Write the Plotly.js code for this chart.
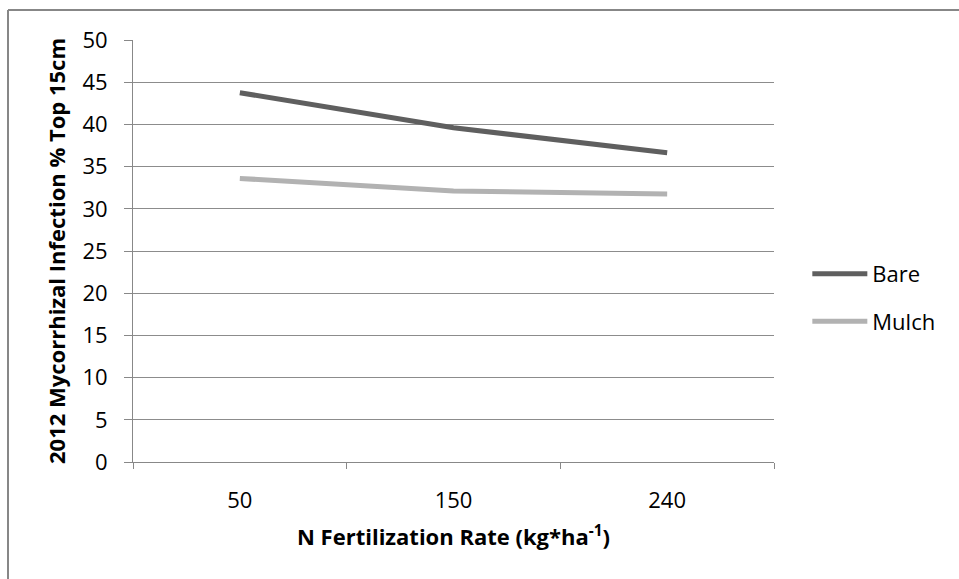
<!DOCTYPE html>
<html>
<head>
<meta charset="utf-8">
<script src="https://cdn.plot.ly/plotly-3.0.1.min.js"></script>
<style>
html,body{margin:0;padding:0;background:#fff;}
#chart{width:959px;height:579px;}
</style>
</head>
<body>
<div id="chart"></div>
<script>
const categories = ["50", "150", "240"];
const bare = [43.75, 39.6, 36.65];
const mulch = [33.6, 32.1, 31.75];
const yTicks = [0, 5, 10, 15, 20, 25, 30, 35, 40, 45, 50];

const font = "'Open Sans', sans-serif";

const traces = [
  {x: categories, y: bare, type: "scatter", mode: "lines", name: "Bare", legendgroup: "a",
   line: {color: "#5f5f5f", width: 5}},
  {x: categories, y: mulch, type: "scatter", mode: "lines", name: "Mulch", legendgroup: "b",
   line: {color: "#b2b2b2", width: 5}}
];

const layout = {
  width: 959, height: 579,
  margin: {l: 133, r: 185, t: 40, b: 117},
  paper_bgcolor: "#fff", plot_bgcolor: "#fff",
  font: {family: font, size: 22, color: "#000"},
  showlegend: true,
  legend: {x: 1.052, y: 0.389, xanchor: "left", yanchor: "middle",
           itemwidth: 55, tracegroupgap: 16, font: {size: 22},
           bgcolor: "rgba(0,0,0,0)"},
  xaxis: {
    type: "category", range: [-0.5, 2.5],
    showgrid: false, showline: true, linecolor: "#888", linewidth: 1,
    ticks: "outside", tickson: "boundaries", ticklen: 6, tickcolor: "#888",
    ticklabelstandoff: 19,
    tickfont: {size: 22}, fixedrange: true,
    title: {text: "N Fertilization Rate (kg*ha<sup>-1</sup>)", font: {size: 22, family: font, weight: "bold"}, standoff: 16}
  },
  yaxis: {
    range: [0, 50], tickvals: yTicks, ticktext: yTicks.map(String),
    showgrid: true, gridcolor: "#8c8c8c", gridwidth: 1,
    showline: true, linecolor: "#888", linewidth: 1,
    ticks: "outside", ticklen: 8, tickcolor: "#888",
    ticklabelstandoff: 12,
    zeroline: false, tickfont: {size: 22}, fixedrange: true,
    title: {text: "2012 Mycorrhizal Infection % Top 15cm", font: {size: 22, family: font, weight: "bold"}, standoff: 10}
  },
  shapes: [
    {type: "line", xref: "paper", yref: "paper", x0: -0.195, x1: -0.195, y0: 1.071, y1: -0.3,
     line: {color: "#878787", width: 2}},
    {type: "line", xref: "paper", yref: "paper", x0: -0.195, x1: 1.3, y0: 1.071, y1: 1.071,
     line: {color: "#878787", width: 2}}
  ]
};

Plotly.newPlot("chart", traces, layout, {displayModeBar: false, staticPlot: true});
</script>
</body>
</html>
